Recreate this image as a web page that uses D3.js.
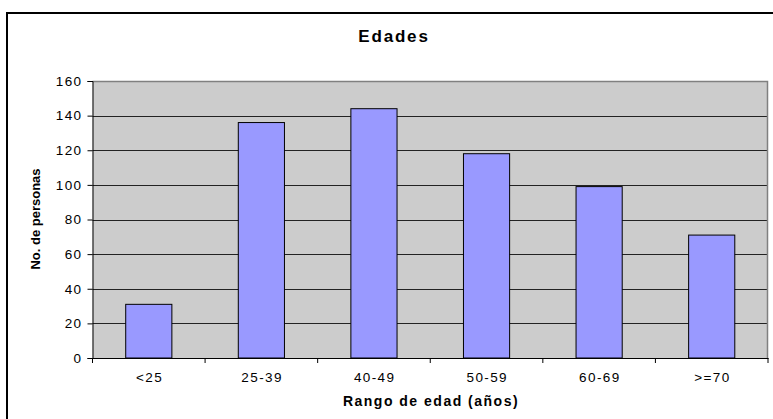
<!DOCTYPE html>
<meta charset="utf-8">
<style>
	body {
		margin: 0;
		background: #fff;
		overflow: hidden;
	}

	svg {
		display: block;
	}

	svg text {
		font-family: 'Liberation Sans', Arial, sans-serif;
		fill: #000;
	}

	.tick text {
		font-size: 13.5px;
		letter-spacing: 1.4px;
	}
</style>
<script src="https://d3js.org/d3.v7.min.js"></script>

<body>
	<div id="chart"></div>

	<script>

		// datos
		let rangos = ["<25", "25-39", "40-49", "50-59", "60-69", ">=70"];
		let personas = [31, 136, 144, 118, 99, 71];
		let yTicks = [0, 20, 40, 60, 80, 100, 120, 140, 160];

		let W = 773, H = 419;
		let margin = { top: 81, right: 5, bottom: 61, left: 92.5 },
			width = W - margin.left - margin.right,
			height = H - margin.top - margin.bottom;

		let svg = d3.select("#chart")
			.append("svg")
			.attr("width", W)
			.attr("height", H);

		let g = svg.append("g")
			.attr("transform", `translate(${margin.left},${margin.top})`);

		let x = d3.scaleBand()
			.domain(rangos)
			.range([0, width])
			.paddingInner(0.59)
			.paddingOuter(0.295);

		let xb = d3.scaleBand()
			.domain(rangos)
			.range([0, width]);

		let y = d3.scaleLinear()
			.domain([0, 160])
			.range([height, 0]);

		// fondo del area de trazado
		g.append("rect")
			.attr("width", width)
			.attr("height", height)
			.attr("fill", "#cccccc");

		// lineas de cuadricula
		g.append("g")
			.selectAll("line")
			.data(yTicks.filter(d => d > 0 && d < 160))
			.join("line")
			.attr("x1", 0)
			.attr("x2", width)
			.attr("y1", d => Math.round(y(d)) + 0.5)
			.attr("y2", d => Math.round(y(d)) + 0.5)
			.attr("stroke", "#222")
			.attr("stroke-width", 1);

		// borde superior y derecho
		g.append("path")
			.attr("d", `M0,0.5H${width - 0.5}V${height}`)
			.attr("fill", "none")
			.attr("stroke", "#808080")
			.attr("stroke-width", 1.5);

		// barras
		g.append("g")
			.selectAll("rect")
			.data(personas)
			.join("rect")
			.attr("x", (d, i) => x(rangos[i]))
			.attr("y", d => y(d))
			.attr("width", x.bandwidth())
			.attr("height", d => height - y(d))
			.attr("fill", "#9999ff")
			.attr("stroke", "#000")
			.attr("stroke-width", 1);

		// eje y
		let yAxis = g.append("g")
			.call(d3.axisLeft(y).tickValues(yTicks).tickSize(5).tickPadding(5));
		yAxis.selectAll("line, path").attr("stroke", "#000");

		// eje x, marcas en los limites de categoria
		let xAxis = g.append("g")
			.attr("transform", `translate(0,${height})`)
			.call(d3.axisBottom(xb).tickSize(0));
		xAxis.select(".domain").attr("stroke", "#000");
		xAxis.selectAll(".tick text")
			.attr("y", 24)
			.attr("dy", 0)
			.attr("dx", "0.7px");

		g.append("g")
			.selectAll("line")
			.data(rangos.map(r => xb(r)).concat([width]))
			.join("line")
			.attr("x1", d => d)
			.attr("x2", d => d)
			.attr("y1", height)
			.attr("y2", height + 5)
			.attr("stroke", "#000");

		// titulos
		svg.append("text")
			.attr("x", 394)
			.attr("y", 42)
			.attr("text-anchor", "middle")
			.style("font-size", "17px")
			.style("font-weight", "bold")
			.style("letter-spacing", "1.8px")
			.text("Edades");

		svg.append("text")
			.attr("x", 431)
			.attr("y", 406)
			.attr("text-anchor", "middle")
			.style("font-size", "14px")
			.style("font-weight", "bold")
			.style("letter-spacing", "1.5px")
			.text("Rango de edad (años)");

		svg.append("text")
			.attr("transform", `translate(40,219) rotate(-90)`)
			.attr("text-anchor", "middle")
			.style("font-size", "13px")
			.style("font-weight", "bold")
			.text("No. de personas");

		// marco exterior del grafico, sale por la derecha y por abajo
		svg.append("rect")
			.attr("x", 7)
			.attr("y", 13)
			.attr("width", W)
			.attr("height", H)
			.attr("fill", "none")
			.attr("stroke", "#000")
			.attr("stroke-width", 2);

	</script>
</body>
